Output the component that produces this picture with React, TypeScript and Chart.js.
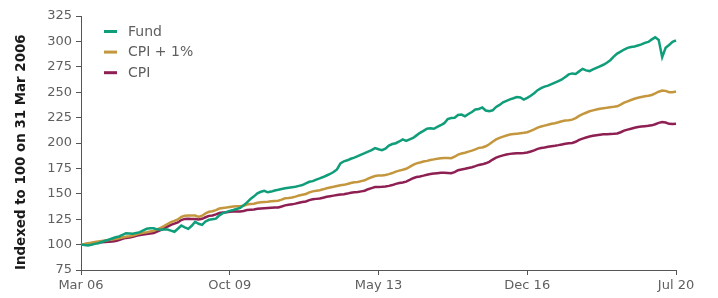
import React, { useEffect, useRef } from 'react';
import { Chart, registerables } from 'chart.js';

Chart.register(...registerables);

// ---- Data (monthly, Mar 2006 .. Jul 2020, indexed to 100) ----
const startYear = 2006;
const startMonth = 2; // March (0-based)
const monthNames = ['Jan', 'Feb', 'Mar', 'Apr', 'May', 'Jun', 'Jul', 'Aug', 'Sep', 'Oct', 'Nov', 'Dec'];

const tickLabels = ['Mar 06', 'Oct 09', 'May 13', 'Dec 16', 'Jul 20'];

const fund = [
  100.0, 99.6, 99.2, 99.8, 100.7, 101.4, 102.6, 103.8, 104.8, 106.0, 107.2, 108.0,
  109.6, 111.2, 110.9, 110.6, 111.5, 112.3, 114.0, 115.6, 116.0, 116.0, 115.0, 114.6,
  114.8, 114.9, 113.8, 112.6, 115.6, 118.8, 117.0, 115.5, 118.5, 122.5, 120.5, 119.4,
  122.8, 124.4, 125.0, 125.5, 128.8, 131.0, 132.0, 133.2, 134.0, 135.0, 136.2, 138.6,
  141.5, 145.0, 147.5, 150.5, 152.0, 153.0, 151.5, 152.2, 153.3, 154.0, 154.8, 155.5,
  156.0, 156.5, 157.0, 157.8, 158.6, 160.2, 161.8, 162.5, 164.0, 165.2, 166.5, 168.0,
  169.5, 171.4, 174.0, 180.0, 182.0, 183.0, 184.5, 185.6, 187.0, 188.6, 190.0, 191.5,
  193.0, 195.0, 193.8, 193.0, 194.5, 197.5, 199.0, 199.8, 201.5, 203.5, 202.0, 203.5,
  205.0, 207.5, 210.0, 212.0, 214.0, 214.5, 214.0, 215.8, 217.5, 219.5, 223.5, 224.5,
  224.8, 227.5, 228.0, 226.2, 228.5, 230.5, 233.0, 233.5, 235.0, 232.0, 231.2, 232.2,
  235.5, 237.5, 240.0, 241.5, 243.0, 244.0, 245.2, 244.8, 242.8, 244.5, 246.5, 249.0,
  252.0, 254.0, 255.5, 256.5, 258.0, 259.5, 261.0, 262.5, 265.0, 267.5, 268.5, 268.0,
  270.5, 273.0, 271.5, 270.8, 272.5, 274.0, 275.5, 277.0, 279.0, 281.5, 285.0, 288.0,
  290.0, 292.0, 293.6, 294.5, 295.0, 296.0, 297.0, 298.5, 299.5, 302.0, 304.0, 301.5,
  284.5, 293.8, 296.5, 299.5, 301.0,
];

const cpiPlus1 = [
  100.0, 100.6, 101.3, 101.9, 102.5, 103.0, 103.5, 104.0, 104.5, 105.0, 105.6, 106.2,
  107.0, 107.8, 108.3, 109.0, 110.0, 111.0, 111.7, 112.2, 112.9, 113.5, 115.0, 116.5,
  118.2, 120.3, 122.1, 123.3, 124.7, 127.2, 128.5, 128.7, 128.7, 128.6, 127.2, 128.4,
  130.7, 132.3, 132.8, 134.0, 135.5, 136.0, 136.5, 137.1, 137.4, 137.7, 137.8, 138.3,
  139.4, 140.0, 140.3, 141.1, 141.6, 141.9, 142.2, 142.6, 142.9, 143.2, 144.3, 145.6,
  145.8, 146.3, 147.2, 148.3, 149.1, 149.8, 151.4, 152.4, 152.9, 153.5, 154.4, 155.4,
  156.2, 156.9, 157.7, 158.4, 158.8, 159.6, 160.6, 161.3, 161.7, 162.5, 163.3, 165.0,
  166.3, 167.5, 167.9, 168.1, 168.5, 169.4, 170.4, 171.8, 172.8, 173.6, 174.6, 176.5,
  178.5, 180.0, 180.8, 181.8, 182.4, 183.2, 183.9, 184.5, 185.0, 185.2, 185.2, 185.0,
  186.5, 188.6, 189.6, 190.4, 191.5, 192.5, 193.8, 195.2, 195.6, 196.8, 198.7, 201.2,
  203.5, 205.0, 206.3, 207.4, 208.3, 208.8, 209.2, 209.6, 210.0, 210.6, 211.9, 213.4,
  215.2, 216.2, 217.1, 218.0, 218.9, 219.5, 220.4, 221.4, 222.2, 222.5, 223.0, 224.5,
  226.7, 228.4, 229.8, 231.2, 232.1, 233.0, 233.8, 234.3, 234.7, 235.2, 235.6, 236.1,
  237.7, 239.7, 241.0, 242.3, 243.5, 244.6, 245.3, 246.0, 246.5, 247.3, 248.8, 250.5,
  251.6, 251.3, 250.0, 249.9, 250.6,
];

const cpi = [
  100.0, 100.4, 100.9, 101.3, 101.8, 102.2, 102.4, 102.5, 102.7, 103.1, 103.6, 104.5,
  105.6, 106.6, 107.0, 107.7, 108.6, 109.4, 110.0, 110.5, 111.0, 111.5, 112.9, 114.3,
  115.9, 117.8, 119.5, 120.6, 121.8, 124.2, 125.3, 125.4, 125.3, 125.3, 124.8, 125.4,
  126.9, 128.3, 128.7, 129.7, 131.1, 131.5, 131.8, 132.3, 132.5, 132.6, 132.6, 133.0,
  134.0, 134.4, 134.6, 135.2, 135.6, 135.8, 136.0, 136.2, 136.4, 136.6, 137.5, 138.6,
  139.2, 139.6, 140.3, 141.2, 141.9, 142.4, 143.8, 144.6, 145.0, 145.4, 146.2, 147.0,
  147.6, 148.2, 148.8, 149.3, 149.6, 150.2, 151.0, 151.5, 151.8, 152.4, 153.0, 154.5,
  155.6, 156.6, 156.8, 156.9, 157.1, 157.8, 158.6, 159.8, 160.6, 161.2, 162.0, 163.6,
  165.3, 166.5, 167.1, 167.9, 168.8, 169.4, 169.9, 170.3, 170.6, 170.7, 170.5, 170.2,
  171.4, 173.2, 174.0, 174.6, 175.4, 176.2, 177.2, 178.4, 179.0, 180.0, 181.5, 183.7,
  185.6, 186.8, 187.8, 188.6, 189.3, 189.6, 189.8, 190.0, 190.2, 190.6, 191.6, 192.8,
  194.2, 195.0, 195.6, 196.3, 196.9, 197.3, 197.9, 198.6, 199.2, 199.7, 200.0, 201.2,
  203.0, 204.3, 205.4, 206.4, 207.1, 207.7, 208.2, 208.5, 208.7, 208.9, 209.1, 209.4,
  210.6, 212.2, 213.2, 214.1, 215.0, 215.8, 216.2, 216.6, 216.9, 217.4, 218.5, 219.8,
  220.6, 220.2, 218.9, 218.6, 219.0,
];

const seriesNames = ['Fund', 'CPI + 1%', 'CPI'];
const seriesColors = ['#0F9D7A', '#C4973F', '#8E1F52'];
const yMin = 75;
const yMax = 325;
const yStep = 25;
const yTitle = 'Indexed to 100 on 31 Mar 2006';

const categories = fund.map((_, i) => {
  const m = startMonth + i;
  const y = startYear + Math.floor(m / 12);
  return monthNames[m % 12] + ' ' + String(y % 100).padStart(2, '0');
});

const FONT = '"DejaVu Sans", sans-serif';
const AXIS_COLOR = '#555555';
const TEXT_COLOR = '#5f5f5f';

const insideLegend = {
  id: 'insideLegend',
  afterDraw(chart: any) {
    const { ctx, chartArea } = chart;
    const x0 = chartArea.left + 23;
    const y0 = chartArea.top + 15.5;
    chart.data.datasets.forEach((ds: any, i: number) => {
      const y = y0 + i * 20.6;
      ctx.save();
      ctx.strokeStyle = ds.borderColor;
      ctx.lineWidth = 3;
      ctx.beginPath();
      ctx.moveTo(x0, y);
      ctx.lineTo(x0 + 13, y);
      ctx.stroke();
      ctx.fillStyle = TEXT_COLOR;
      ctx.font = `14px ${FONT}`;
      ctx.textBaseline = 'middle';
      ctx.textAlign = 'left';
      ctx.fillText(ds.label, x0 + 24, y + 0.5);
      ctx.restore();
    });
  },
};

export default function App() {
  const ref = useRef<HTMLCanvasElement | null>(null);

  useEffect(() => {
    document.body.style.margin = '0';
    if (!ref.current) return;
    const series = [fund, cpiPlus1, cpi];
    const chart = new Chart(ref.current, {
      type: 'line',
      data: {
        labels: categories,
        datasets: series.map((d, i) => ({
          label: seriesNames[i],
          data: d,
          borderColor: seriesColors[i],
          backgroundColor: seriesColors[i],
          borderWidth: 2.5,
          pointRadius: 0,
          tension: 0,
          fill: false,
        })),
      },
      options: {
        responsive: false,
        maintainAspectRatio: false,
        animation: false,
        layout: { padding: { left: 0, right: 42, top: 16, bottom: 0 } },
        plugins: {
          legend: { display: false },
          tooltip: { enabled: false },
        },
        scales: {
          x: {
            type: 'category',
            offset: false,
            grid: {
              display: true,
              drawOnChartArea: false,
              drawTicks: true,
              tickLength: 5,
              color: AXIS_COLOR,
              lineWidth: 1,
            },
            border: { display: true, color: AXIS_COLOR, width: 1 },
            ticks: {
              autoSkip: false,
              maxRotation: 0,
              minRotation: 0,
              padding: 3,
              color: TEXT_COLOR,
              font: { family: FONT, size: 13 },
              callback: (_v: any, i: number) =>
                tickLabels.includes(categories[i]) ? categories[i] : null,
            },
            afterFit: (s: any) => {
              s.height = 28;
            },
          },
          y: {
            min: yMin,
            max: yMax,
            grid: {
              display: true,
              drawOnChartArea: false,
              drawTicks: true,
              tickLength: 5,
              color: AXIS_COLOR,
              lineWidth: 1,
            },
            border: { display: true, color: AXIS_COLOR, width: 1 },
            ticks: {
              stepSize: yStep,
              padding: 4,
              color: TEXT_COLOR,
              font: { family: FONT, size: 13 },
            },
            title: {
              display: true,
              text: yTitle,
              align: 'start',
              color: '#1a1a1a',
              font: { family: FONT, size: 13.4, weight: 'bold' },
              padding: { top: 13, bottom: 0 },
            },
            afterFit: (s: any) => {
              s.width = 81;
            },
          },
        },
      },
      plugins: [insideLegend],
    });
    return () => chart.destroy();
  }, []);

  return (
    <div style={{ width: 718, height: 298 }}>
      <canvas ref={ref} width={718} height={298} style={{ display: 'block' }} />
    </div>
  );
}
